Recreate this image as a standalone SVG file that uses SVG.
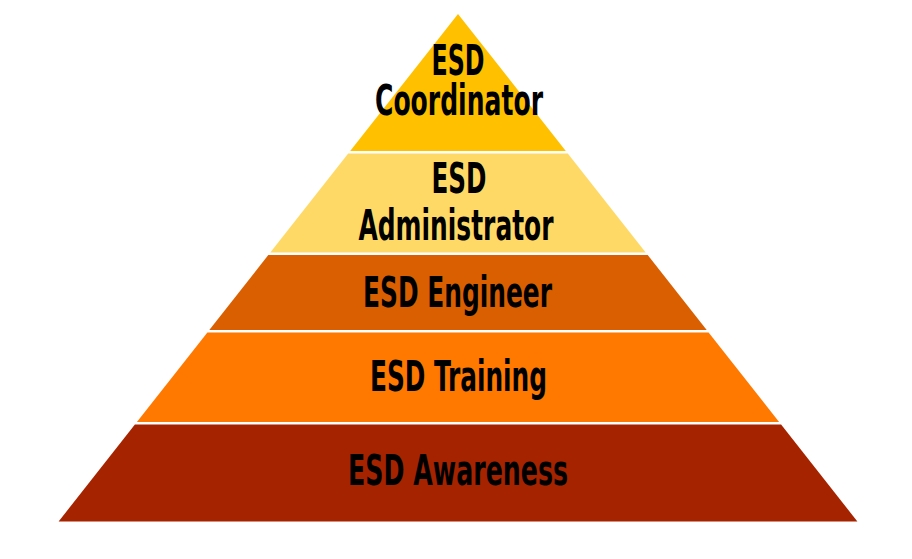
<svg xmlns="http://www.w3.org/2000/svg" width="912" height="559" viewBox="0 0 912 559">
<style>
.lbl{font-family:"Liberation Sans Narrow","DejaVu Sans Condensed","Liberation Sans",sans-serif;font-weight:bold;font-size:42px;fill:#000;text-anchor:middle}
</style>
<rect width="912" height="559" fill="#fff"/>
<g id="level1">
<polygon points="458,14 565.8,151 350.2,151" fill="#FFC000"/>
<text class="lbl" x="458" y="75" textLength="53" lengthAdjust="spacingAndGlyphs">ESD</text>
<text class="lbl" x="459" y="115" textLength="168" lengthAdjust="spacingAndGlyphs">Coordinator</text>
</g>
<g id="level2">
<polygon points="348.2,153.5 567.8,153.5 645.7,252.5 270.3,252.5" fill="#FFD966"/>
<text class="lbl" x="459" y="193" textLength="55" lengthAdjust="spacingAndGlyphs">ESD</text>
<text class="lbl" x="456" y="240" textLength="195" lengthAdjust="spacingAndGlyphs">Administrator</text>
</g>
<g id="level3">
<polygon points="268.3,255 647.7,255 706.7,330 209.3,330" fill="#D95F00"/>
<text class="lbl" x="457.5" y="307" textLength="189" lengthAdjust="spacingAndGlyphs">ESD Engineer</text>
</g>
<g id="level4">
<polygon points="207.4,332.5 708.6,332.5 779.1,422 136.9,422" fill="#FF7800"/>
<text class="lbl" x="458.5" y="391" textLength="177" lengthAdjust="spacingAndGlyphs">ESD Training</text>
</g>
<g id="level5">
<polygon points="134.9,424.5 781.1,424.5 857.4,521.5 58.6,521.5" fill="#A62300"/>
<text class="lbl" x="458" y="485" textLength="220" lengthAdjust="spacingAndGlyphs">ESD Awareness</text>
</g>
<g id="connectors"/>
</svg>
